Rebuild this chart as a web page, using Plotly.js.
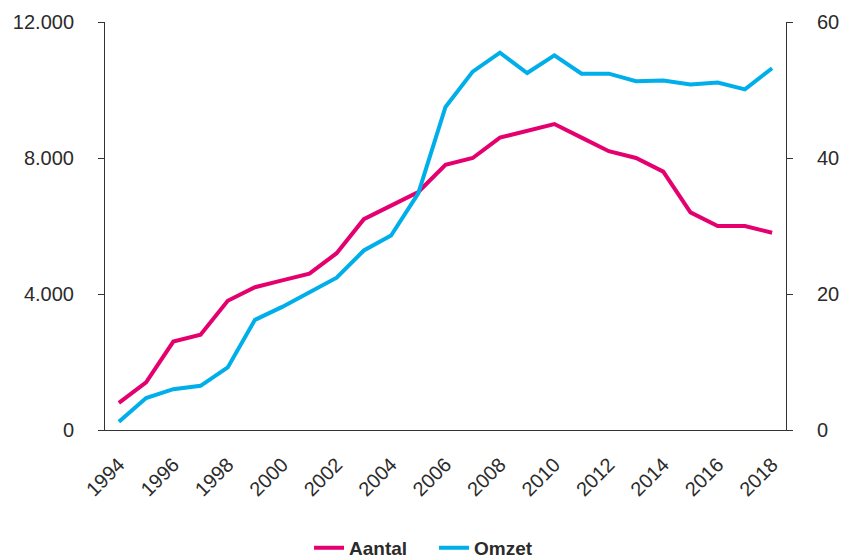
<!DOCTYPE html>
<html>
<head>
<meta charset="utf-8">
<script src="https://cdn.plot.ly/plotly-3.0.1.min.js"></script>
<style>html,body{margin:0;padding:0;background:#fff;}#chart{width:844px;height:558px;}</style>
</head>
<body>
<div id="chart"></div>
<script>
const years = [1994,1995,1996,1997,1998,1999,2000,2001,2002,2003,2004,2005,2006,2007,2008,2009,2010,2011,2012,2013,2014,2015,2016,2017,2018];
const aantal = [800,1400,2600,2800,3800,4200,4400,4600,5200,6200,6600,7000,7800,8000,8600,8800,9000,8600,8200,8000,7600,6400,6000,6000,5800];
const omzet = [1.2,4.7,6.0,6.5,9.2,16.2,18.1,20.3,22.4,26.4,28.6,34.8,47.5,52.7,55.5,52.5,55.1,52.4,52.4,51.3,51.4,50.8,51.1,50.1,53.2];
const xTicks = [1994,1996,1998,2000,2002,2004,2006,2008,2010,2012,2014,2016,2018];
const leftTicks = [0,4000,8000,12000];
const leftLabels = ['0','4.000','8.000','12.000'];
const rightTicks = [0,20,40,60];

const pink = '#E4006F';
const blue = '#00AEEA';
const fontFam = 'Liberation Sans, Arial, sans-serif';
const txt = '#2b2b2b';

const data = [
  {x: years, y: aantal, name: 'Aantal', type: 'scatter', mode: 'lines', line: {color: pink, width: 4}, yaxis: 'y'},
  {x: years, y: omzet, name: 'Omzet', type: 'scatter', mode: 'lines', line: {color: blue, width: 4}, yaxis: 'y2'}
];

const layout = {
  width: 844, height: 558,
  margin: {l: 105, r: 58, t: 22, b: 128, autoexpand: false},
  paper_bgcolor: '#fff', plot_bgcolor: '#fff',
  font: {family: fontFam, size: 20, color: txt},
  showlegend: true,
  legend: {orientation: 'h', x: 0.2996, xanchor: 'left', y: -0.289, yanchor: 'middle',
           entrywidth: 80, entrywidthmode: 'pixels',
           font: {family: fontFam, size: 19, color: txt, weight: 'bold'}, itemwidth: 30},
  xaxis: {range: [1993.49, 2018.51], tickvals: xTicks, tickangle: -45, showgrid: false, zeroline: false,
          showline: true, linecolor: '#333', linewidth: 1, ticks: '', fixedrange: true, automargin: false,
          ticklabelstandoff: 14, tickfont: {family: fontFam, size: 20, color: txt}},
  yaxis: {range: [0, 12000], tickvals: leftTicks, ticktext: leftLabels, showgrid: false, zeroline: false,
          showline: true, linecolor: '#333', linewidth: 1, ticks: 'outside', ticklen: 6, tickcolor: '#333',
          automargin: false, ticklabelstandoff: 20, tickfont: {family: fontFam, size: 20, color: txt}},
  yaxis2: {range: [0, 60], tickvals: rightTicks, overlaying: 'y', side: 'right', showgrid: false, zeroline: false,
           showline: true, linecolor: '#333', linewidth: 1, ticks: 'outside', ticklen: 6, tickcolor: '#333',
           automargin: false, ticklabelstandoff: 20, tickfont: {family: fontFam, size: 20, color: txt}}
};

Plotly.newPlot('chart', data, layout, {displayModeBar: false, staticPlot: true});
</script>
</body>
</html>
